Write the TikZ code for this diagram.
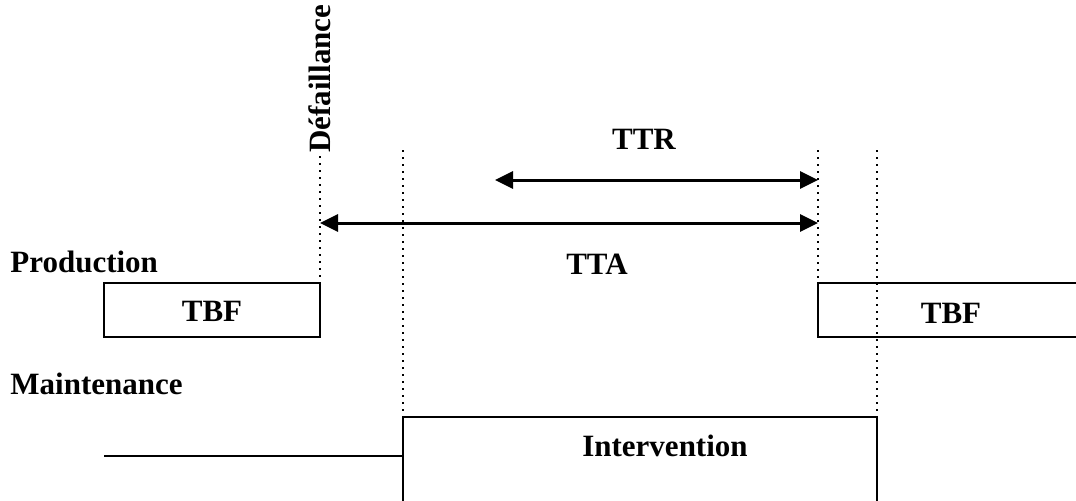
\documentclass[tikz,border=0pt]{standalone}
\usepackage{fontspec}
\setmainfont{Liberation Serif}
\usetikzlibrary{arrows.meta}
\begin{document}
\begin{tikzpicture}[x=0.5pt,y=-0.5pt,
  lbl/.style={font=\fontsize{15.5}{18}\selectfont\bfseries, inner sep=0pt},
  boxline/.style={line width=1.1pt},
  dotline/.style={line width=1.2pt, dash pattern=on 1pt off 2.5pt},
  dimarrow/.style={line width=1.5pt, {Triangle[length=9pt,width=8.5pt]}-{Triangle[length=9pt,width=8.5pt]}}]
\useasboundingbox (0,0) rectangle (1076,500);
% labels
\node[lbl, anchor=west] (prod) at (10,262) {Production};
\node[lbl, anchor=west] (maint) at (10,384) {Maintenance};
\node[lbl, rotate=90, anchor=west] (def) at (320,153) {Défaillance};
% production boxes
\draw[boxline] (104,283) rectangle (320,337);
\node[lbl] (tbf1) at (212,311) {TBF};
\draw[boxline] (1080,283) -- (818,283) -- (818,337) -- (1080,337);
\node[lbl] (tbf2) at (951,313) {TBF};
% maintenance
\draw[boxline] (104,456) -- (403,456);
\draw[boxline] (403,503) -- (403,417) -- (877,417) -- (877,503);
\node[lbl] (interv) at (665,446) {Intervention};
% dotted guides
\coordinate (d1t) at (320,156);
\coordinate (d1b) at (320,283);
\coordinate (d2t) at (403,150);
\coordinate (d2b) at (403,417);
\coordinate (d3t) at (818,150);
\coordinate (d3b) at (818,283);
\coordinate (d4t) at (877,150);
\coordinate (d4b) at (877,417);
\draw[dotline] (d1t) -- (d1b);
\draw[dotline] (d2t) -- (d2b);
\draw[dotline] (d3t) -- (d3b);
\draw[dotline] (d4t) -- (d4b);
% arrows
\coordinate (ttrL) at (495,180);
\coordinate (ttrR) at (818,180);
\coordinate (ttaL) at (320,223);
\coordinate (ttaR) at (818,223);
\draw[dimarrow] (ttrL) -- (ttrR);
\draw[dimarrow] (ttaL) -- (ttaR);
\node[lbl] (ttr) at (644,139) {TTR};
\node[lbl] (tta) at (597,264) {TTA};
\end{tikzpicture}
\end{document}
